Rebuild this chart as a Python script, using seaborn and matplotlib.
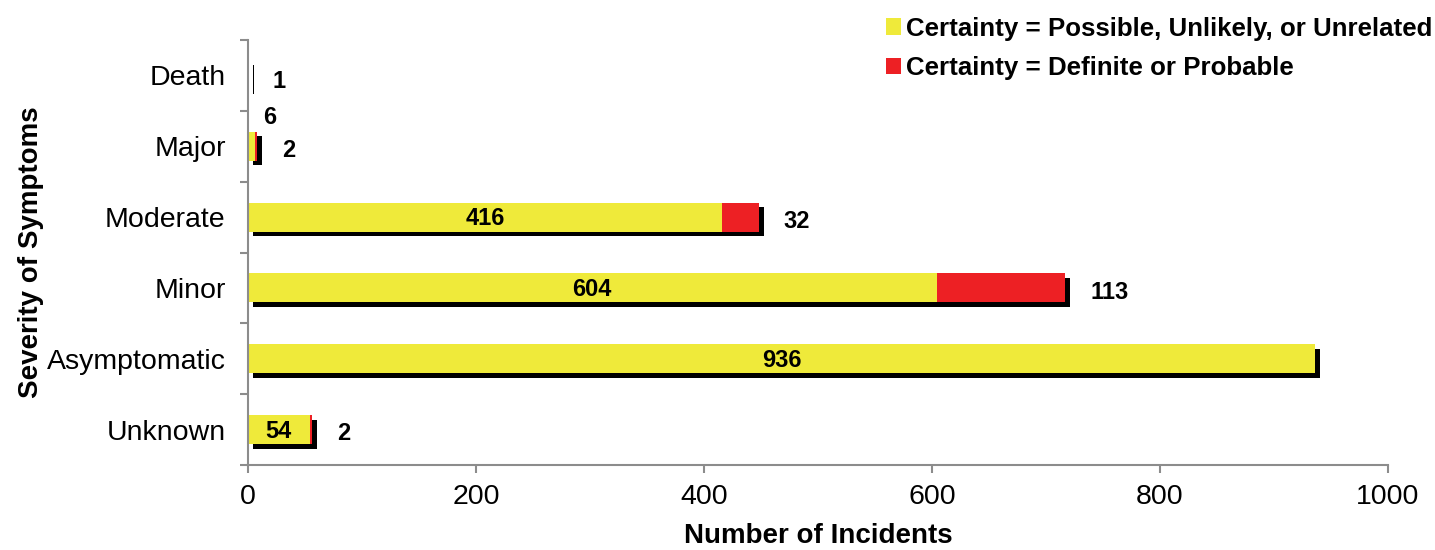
import matplotlib
matplotlib.use("Agg")
import matplotlib.pyplot as plt
import matplotlib.patheffects as pe
from matplotlib.patches import Patch
import seaborn as sns
import pandas as pd

# Incident counts by severity, split by certainty of the link
severity = ["Death", "Major", "Moderate", "Minor", "Asymptomatic", "Unknown"]
possible_unlikely_unrelated = [1, 6, 416, 604, 936, 54]
definite_probable = [0, 2, 32, 113, 0, 2]
x_ticks = [0, 200, 400, 600, 800, 1000]

YELLOW = "#EFEA3A"
RED = "#ED2024"
GRAY = "#8C8C8C"

df = pd.DataFrame({
    "severity": severity,
    "low": possible_unlikely_unrelated,
    "high": definite_probable,
})
df["total"] = df["low"] + df["high"]

sns.set_theme(style="white")
plt.rcParams["font.family"] = ["Liberation Sans", "DejaVu Sans"]
plt.rcParams["text.color"] = "black"
plt.rcParams["axes.labelcolor"] = "black"
plt.rcParams["xtick.color"] = "black"
plt.rcParams["ytick.color"] = "black"

fig = plt.figure(figsize=(14.35, 5.5), dpi=100)
ax = fig.add_axes([0.1728, 0.1545, 0.7944, 0.7727])

bar_w = 0.41
# full-length bars (red), carrying the drop shadow
sns.barplot(data=df, x="total", y="severity", orient="h", color=RED,
            saturation=1, width=bar_w, ax=ax, errorbar=None, linewidth=0)
for p in ax.patches:
    p.set_path_effects([
        pe.SimplePatchShadow(offset=(3.6, -3.2), shadow_rgbFace="black", alpha=1.0),
        pe.Normal(),
    ])
# yellow segment on top from zero
sns.barplot(data=df, x="low", y="severity", orient="h", color=YELLOW,
            saturation=1, width=bar_w, ax=ax, errorbar=None, linewidth=0)

ax.set_xlim(0, 1000)
ax.set_ylim(5.5, -0.5)

# value labels
lab_kw = dict(fontsize=17, fontweight="bold", color="black")
for i, row in df.iterrows():
    lo, hi, tot = row["low"], row["high"], row["total"]
    if lo >= 30:
        ax.text(lo / 2, i + 0.02, f"{lo}", ha="center", va="center", **lab_kw)
    elif hi == 0:
        ax.annotate(f"{lo}", (tot, i), xytext=(17, -4), textcoords="offset points",
                    ha="left", va="center", **lab_kw)
    else:
        ax.annotate(f"{lo}", (lo, i), xytext=(11, 21), textcoords="offset points",
                    ha="center", va="center", **lab_kw)
    if hi > 0:
        ax.annotate(f"{hi}", (tot, i), xytext=(18, -3), textcoords="offset points",
                    ha="left", va="center", **lab_kw)

# axes styling
for s in ["top", "right"]:
    ax.spines[s].set_visible(False)
for s in ["left", "bottom"]:
    ax.spines[s].set_color(GRAY)
    ax.spines[s].set_linewidth(1.5)

ax.set_xticks(x_ticks)
ax.set_xticklabels([str(t) for t in x_ticks])
ax.tick_params(axis="x", direction="out", length=6, width=1.5, color=GRAY,
               labelcolor="black", pad=8, labelsize=20.5, bottom=True)
ax.set_yticks(range(len(severity)))
ax.set_yticklabels(severity)
ax.tick_params(axis="y", which="major", length=0, pad=16, labelsize=20.5,
               labelcolor="black", left=True)
ax.set_yticks([i - 0.5 for i in range(len(severity) + 1)], minor=True)
ax.tick_params(axis="y", which="minor", direction="out", length=6, width=1.5,
               color=GRAY, left=True)

ax.set_xlabel("Number of Incidents", fontsize=20, fontweight="bold", labelpad=9)
ax.set_ylabel("Severity of Symptoms", fontsize=20, fontweight="bold", labelpad=2)
ax.grid(False)

handles = [Patch(facecolor=YELLOW, edgecolor="none"),
           Patch(facecolor=RED, edgecolor="none")]
fig.legend(handles, ["Certainty = Possible, Unlikely, or Unrelated",
                     "Certainty = Definite or Probable"],
           loc="upper right", bbox_to_anchor=(1.0145, 1.012), frameon=False,
           prop={"size": 18.6, "weight": "bold"}, handlelength=0.6,
           handleheight=0.6, handletextpad=0.2, labelspacing=0.6)

fig.savefig("out.png", dpi=100)
